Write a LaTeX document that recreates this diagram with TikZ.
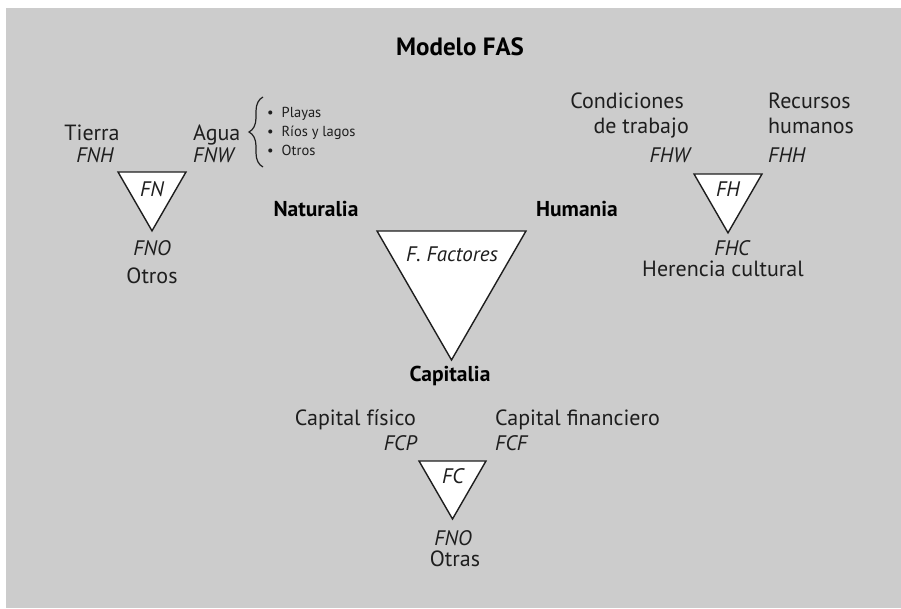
\documentclass[tikz,border=0pt]{standalone}
\usepackage{fontspec}
\setmainfont{PT Sans}
\usetikzlibrary{positioning,shapes.geometric,decorations.pathreplacing,calc}
\definecolor{fasback}{RGB}{204,204,204}
\definecolor{fasink}{RGB}{30,30,30}
\tikzset{
  factor/.style={regular polygon, regular polygon sides=3, shape border rotate=180,
     draw=fasink, fill=white, line width=1.4pt, inner sep=0pt, outer sep=0pt},
  txt/.style={font=\fontsize{22}{25}\selectfont, text=fasink, inner sep=0pt,
     text height=1.5ex, text depth=.3ex},
  code/.style={font=\fontsize{21}{24}\selectfont\itshape, text=fasink, inner sep=0pt,
     text height=1.5ex, text depth=.3ex},
  sector/.style={font=\fontsize{21.5}{25}\selectfont\bfseries, text=black, inner sep=0pt,
     text height=1.5ex, text depth=.3ex},
  bulletitem/.style={font=\fontsize{14.5}{16}\selectfont, text=fasink, inner sep=0pt,
     anchor=west, text height=1.5ex, text depth=.3ex}
}
\begin{document}
\begin{tikzpicture}[x=1pt, y=-1pt]
    % background panel
    \useasboundingbox (0,0) rectangle (901,608);
    \fill[fasback] (6,8) rectangle (901,608);

    \node[sector, font=\fontsize{25}{28}\selectfont\bfseries] (title) at (460,52) {Modelo FAS};

    % the four factor triangles
    \node[factor, minimum size=78.5] (fn) at (152,191.6) {};
    \node[factor, minimum size=78.5] (fh) at (728,193.6) {};
    \node[factor, minimum size=172] (ff) at (451.5,274) {};
    \node[factor, minimum size=77.4] (fc) at (452.5,480.3) {};

    % central triangle
    \node[code] (fftxt) at (452,258) {F. Factores};
    \node[sector] (naturalia) at (316,213) {Naturalia};
    \node[sector] (humania) at (577,213) {Humania};
    \node[sector] (capitalia) at (450,378) {Capitalia};

    % Naturalia
    \node[code] (fntxt) at (152,193) {FN};
    \node[txt] (tierra) at (92,137) {Tierra};
    \node[code] (fnh) at (95,159) {FNH};
    \node[txt, anchor=west] (agua) at (193,137) {Agua};
    \node[code, anchor=west] (fnw) at (193,159) {FNW};
    \node[code] (fno) at (152,252) {FNO};
    \node[txt] (otros) at (152,280) {Otros};
    \draw[fasink, line width=1.2pt, decorate, decoration={brace, amplitude=14pt}]
      (263,167) -- (263,97) coordinate[pos=.5] (agua brace);
    \node[bulletitem] (playas) at (267,114) {\textbullet\hspace{8pt}Playas};
    \node[bulletitem] (rios) at (267,133) {\textbullet\hspace{8pt}Ríos y lagos};
    \node[bulletitem] (otrosb) at (267,152) {\textbullet\hspace{8pt}Otros};

    % Humania
    \node[code] (fhtxt) at (728,193) {FH};
    \node[txt, anchor=east] (condic) at (684,105) {Condiciones};
    \node[txt, anchor=east] (trabajo) at (689,130) {de trabajo};
    \node[code, anchor=east] (fhw) at (690,159) {FHW};
    \node[txt, anchor=west] (recursos) at (768,105) {Recursos};
    \node[txt, anchor=west] (humanos) at (768,130) {humanos};
    \node[code, anchor=west] (fhh) at (768,159) {FHH};
    \node[code] (fhc) at (732,252) {FHC};
    \node[txt] (herencia) at (723,273) {Herencia cultural};

    % Capitalia
    \node[code] (fctxt) at (453,480) {FC};
    \node[txt, anchor=east] (fisico) at (416,422) {Capital físico};
    \node[code, anchor=east] (fcp) at (417,447) {FCP};
    \node[txt, anchor=west] (financ) at (495,422) {Capital financiero};
    \node[code, anchor=west] (fcf) at (495,447) {FCF};
    \node[code] (fco) at (453,542) {FNO};
    \node[txt] (otras) at (455,563) {Otras};
\end{tikzpicture}
\end{document}
